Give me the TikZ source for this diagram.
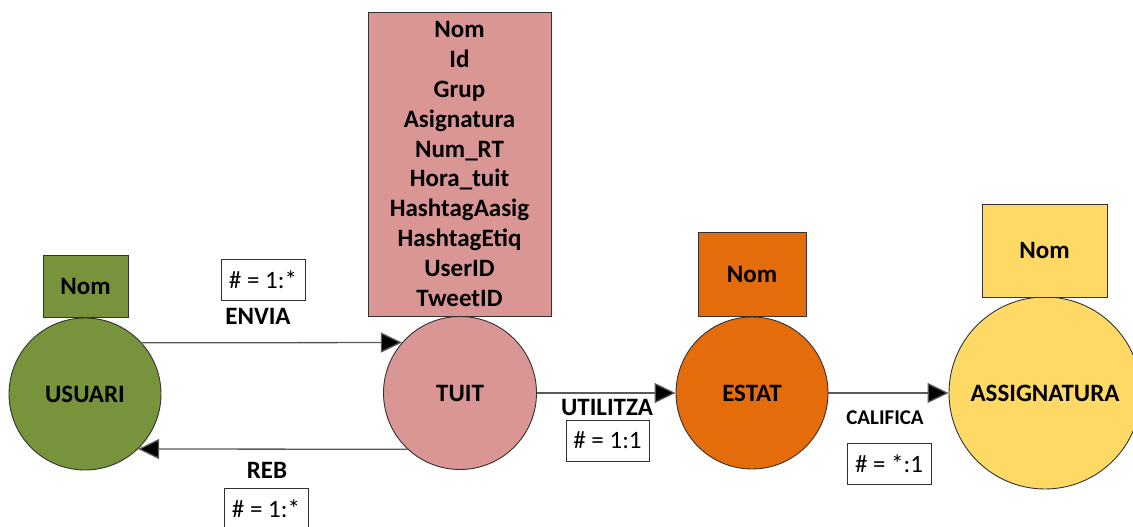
\documentclass[tikz,border=0pt]{standalone}
\usepackage{fontspec}
\setmainfont{Carlito}
\usetikzlibrary{arrows.meta}

\definecolor{userGreen}{RGB}{119,147,60}
\definecolor{tweetPink}{RGB}{217,150,148}
\definecolor{stateOrange}{RGB}{228,108,10}
\definecolor{subjYellow}{RGB}{255,217,102}
\definecolor{edgeGray}{RGB}{89,89,89}
\definecolor{outline}{RGB}{50,50,50}

\tikzset{
  entity/.style={circle, draw=outline, line width=0.9pt, inner sep=0pt,
    font=\fontsize{25}{30}\selectfont\bfseries},
  attrbox/.style={rectangle, draw=outline, line width=0.9pt, inner sep=0pt,
    font=\fontsize{25}{29.9}\selectfont\bfseries, align=center},
  cardbox/.style={rectangle, draw=outline, fill=white, line width=0.9pt,
    inner sep=0pt, minimum width=84pt, minimum height=41pt,
    font=\fontsize{25}{30}\selectfont},
  relname/.style={font=\fontsize{25}{30}\selectfont\bfseries, inner sep=0pt},
  rel/.style={draw=edgeGray, line width=1.3pt,
    -{Triangle[length=21pt,width=20pt,fill=black]}},
}

\begin{document}
\begin{tikzpicture}[x=1pt, y=-1pt]
  \useasboundingbox (0,0) rectangle (1133,527);

  % entities
  \node[entity, fill=userGreen, minimum size=152pt] (usuari) at (85,394) {USUARI};
  \node[entity, fill=tweetPink, minimum size=153pt] (tuit) at (460,393) {TUIT};
  \node[entity, fill=stateOrange, minimum size=152pt] (estat) at (752,393) {ESTAT};
  \node[entity, fill=subjYellow, minimum size=192pt] (assig) at (1045,393) {ASSIGNATURA};

  % attribute boxes
  \node[attrbox, fill=userGreen, minimum width=85pt, minimum height=62pt]
    (usuariAttr) at (85.5,286) {Nom};
  \node[attrbox, fill=tweetPink, minimum width=183pt, minimum height=304pt]
    (tuitAttr) at (459.5,164)
    {Nom\\Id\\Grup\\Asignatura\\Num\_RT\\Hora\_tuit\\HashtagAasig\\HashtagEtiq\\UserID\\TweetID};
  \node[attrbox, fill=stateOrange, minimum width=108pt, minimum height=84pt]
    (estatAttr) at (752,274) {Nom};
  \node[attrbox, fill=subjYellow, minimum width=125pt, minimum height=93pt]
    (assigAttr) at (1044.5,250.5) {Nom};

  % relationships
  \draw[rel] (usuari.42) -- (tuit.139.5);
  \draw[rel] (tuit.-133.5) -- (usuari.-46.5);
  \draw[rel] (tuit.east) -- (estat.west);
  \draw[rel] (estat.east) -- (assig.west);

  % relationship names
  \node[relname] (envia) at (258,316) {ENVIA};
  \node[relname] (reb) at (267,470) {REB};
  \node[relname] (utilitza) at (607,407) {UTILITZA};
  \node[relname, font=\fontsize{21}{25}\selectfont\bfseries] (califica) at (885,418) {CALIFICA};

  % cardinalities
  \node[cardbox] (enviaCard) at (263,279.5) {\# = 1:*};
  \node[cardbox] (rebCard) at (266,509) {\# = 1:*};
  \node[cardbox, minimum width=83pt] (utilitzaCard) at (607.5,440.5) {\# = 1:1};
  \node[cardbox] (calificaCard) at (889,463.5) {\# = *:1};
\end{tikzpicture}
\end{document}
